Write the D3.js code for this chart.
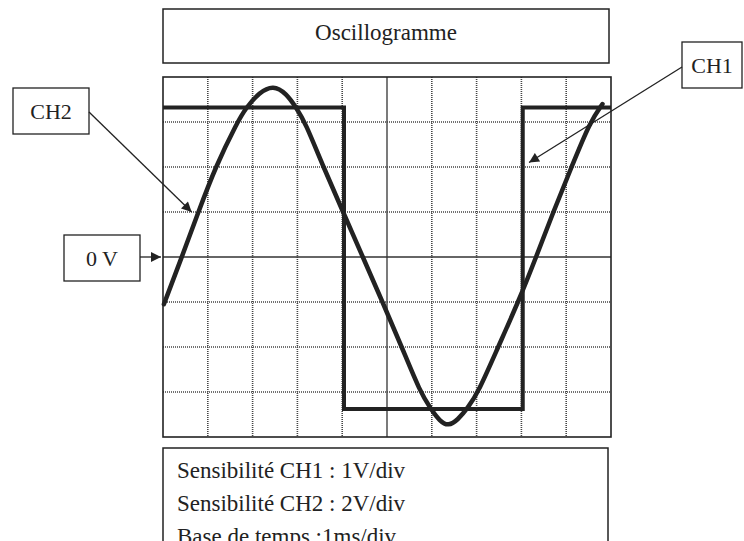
<!DOCTYPE html>
<html>
<head>
<meta charset="utf-8">
<script src="https://cdn.jsdelivr.net/npm/d3@7"></script>
<style>
  html, body { margin: 0; padding: 0; background: #fff; }
  svg { display: block; }
  text { font-family: "Liberation Serif", "Times New Roman", serif; fill: #222; }
</style>
</head>
<body>
<svg id="chart" width="744" height="541"></svg>
<script>
// ---- data ----
const title = "Oscillogramme";
const infoLines = ["Sensibilité CH1 : 1V/div", "Sensibilité CH2 : 2V/div", "Base de temps :1ms/div"];
const timeDivs = [0, 1, 2, 3, 4, 5, 6, 7, 8, 9, 10];          // ms (1 ms/div)
const voltDivs = [-4, -3, -2, -1, 0, 1, 2, 3, 4];             // divisions
// CH1 : square wave (V, 1 V/div)
const ch1Time = [0, 4.04, 4.04, 8.03, 8.03, 10];
const ch1Volt = [3.32, 3.32, -3.38, -3.38, 3.32, 3.32];
// CH2 : sine-like wave (V, 2 V/div)
const ch2Time = [0.02, 0.42, 0.79, 1.17, 1.66, 1.85, 2.15, 2.46, 2.75, 2.98, 3.17, 3.58, 4.02, 4.46, 4.90, 5.33, 5.74, 5.98, 6.18, 6.37, 6.58, 6.80, 7.04, 7.48, 7.93, 8.33, 8.71, 9.12, 9.53, 9.81];
const ch2Volt = [-2.1, 0, 2, 4, 6, 6.62, 7.32, 7.64, 7.28, 6.62, 6, 4, 2, 0, -2, -4, -6, -6.76, -7.3, -7.52, -7.24, -6.72, -6, -4, -2, 0, 2, 4, 6, 6.8];

// ---- layout ----
const svg = d3.select("#chart");
const screen = { x0: 163, x1: 611, y0: 77, y1: 437 };
const x = d3.scaleLinear().domain([0, 10]).range([screen.x0, screen.x1]);
const yDiv = d3.scaleLinear().domain([-4, 4]).range([screen.y1, screen.y0]);
const y1 = d3.scaleLinear().domain([-4, 4]).range([screen.y1, screen.y0]);   // CH1 1V/div
const y2 = d3.scaleLinear().domain([-8, 8]).range([screen.y1, screen.y0]);   // CH2 2V/div

const ink = "#222";

// arrow marker
const defs = svg.append("defs");
defs.append("marker")
  .attr("id", "arr").attr("viewBox", "0 0 10 10")
  .attr("refX", 10).attr("refY", 5)
  .attr("markerWidth", 13).attr("markerHeight", 10)
  .attr("markerUnits", "userSpaceOnUse")
  .attr("orient", "auto")
  .append("path").attr("d", "M0,0 L10,5 L0,10 Z").attr("fill", ink);

// title box
svg.append("rect").attr("x", 163).attr("y", 9).attr("width", 446).attr("height", 54)
  .attr("fill", "none").attr("stroke", ink).attr("stroke-width", 1.5);
svg.append("text").attr("x", 386).attr("y", 40).attr("text-anchor", "middle")
  .attr("font-size", 23).text(title);

// grid
const grid = svg.append("g");
grid.selectAll("line.v").data(timeDivs.filter(d => d > 0 && d < 10)).join("line")
  .attr("x1", d => x(d)).attr("x2", d => x(d))
  .attr("y1", screen.y0).attr("y2", screen.y1)
  .attr("stroke", d => d === 5 ? "#333" : "#444")
  .attr("stroke-width", d => d === 5 ? 1.3 : 1.6)
  .attr("stroke-dasharray", d => d === 5 ? null : "1,1");
grid.selectAll("line.h").data(voltDivs.filter(d => d > -4 && d < 4)).join("line")
  .attr("y1", d => yDiv(d)).attr("y2", d => yDiv(d))
  .attr("x1", screen.x0).attr("x2", screen.x1)
  .attr("stroke", d => d === 0 ? "#333" : "#444")
  .attr("stroke-width", d => d === 0 ? 1.3 : 1.6)
  .attr("stroke-dasharray", d => d === 0 ? null : "1,1");
svg.append("rect").attr("x", screen.x0).attr("y", screen.y0)
  .attr("width", screen.x1 - screen.x0).attr("height", screen.y1 - screen.y0)
  .attr("fill", "none").attr("stroke", ink).attr("stroke-width", 1.6);

// CH1 square wave
const ch1 = ch1Time.map((t, i) => [t, ch1Volt[i]]);
svg.append("path").datum(ch1)
  .attr("d", d3.line().x(d => x(d[0])).y(d => y1(d[1])))
  .attr("fill", "none").attr("stroke", ink).attr("stroke-width", 4)
  .attr("stroke-linejoin", "miter");

// CH2 wave
const ch2 = ch2Time.map((t, i) => [t, ch2Volt[i]]);
svg.append("path").datum(ch2)
  .attr("d", d3.line().x(d => x(d[0])).y(d => y2(d[1])).curve(d3.curveBasis))
  .attr("fill", "none").attr("stroke", ink).attr("stroke-width", 4.5)
  .attr("stroke-linecap", "round");

// label boxes with arrows
function labelBox(bx, by, bw, bh, label, fx, fy, tx, ty) {
  svg.append("rect").attr("x", bx).attr("y", by).attr("width", bw).attr("height", bh)
    .attr("fill", "#fff").attr("stroke", ink).attr("stroke-width", 1.3);
  svg.append("text").attr("x", bx + bw / 2).attr("y", by + bh / 2 + 8)
    .attr("text-anchor", "middle").attr("font-size", 22).text(label);
  svg.append("line").attr("x1", fx).attr("y1", fy).attr("x2", tx).attr("y2", ty)
    .attr("stroke", ink).attr("stroke-width", 1.3).attr("marker-end", "url(#arr)");
}
labelBox(13, 88, 76, 46, "CH2", 89, 112, x(0.64), y2(2.0));
labelBox(64, 235, 76, 46, "0 V", 140, y2(0), x(0) - 2, y2(0));
labelBox(682, 42, 60, 46, "CH1", 682, 67, x(8.17), y1(2.1));

// info box
svg.append("rect").attr("x", 163).attr("y", 448).attr("width", 445).attr("height", 110)
  .attr("fill", "none").attr("stroke", ink).attr("stroke-width", 1.5);
svg.selectAll("text.info").data(infoLines).join("text")
  .attr("x", 177).attr("y", (d, i) => 478 + i * 33)
  .attr("font-size", 23).text(d => d);
</script>
</body>
</html>
